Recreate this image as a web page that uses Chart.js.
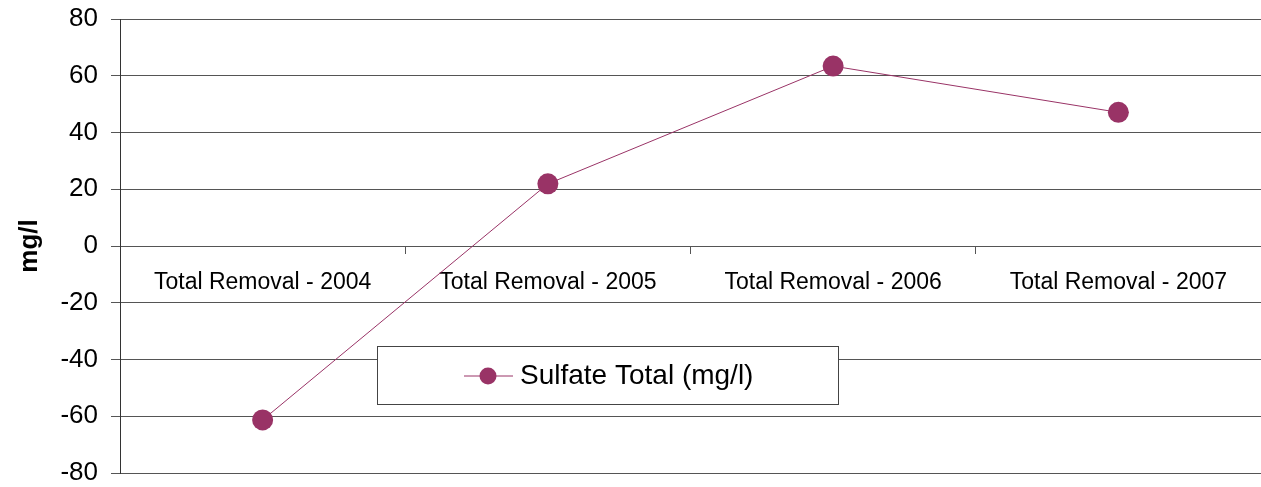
<!DOCTYPE html>
<html>
<head>
<meta charset="utf-8">
<script src="https://cdn.jsdelivr.net/npm/chart.js@4"></script>
<style>
  html, body { margin: 0; padding: 0; background: #fff; }
  #wrap { position: relative; width: 1261px; height: 487px; }
</style>
</head>
<body>
<div id="wrap"><canvas id="chart"></canvas></div>
<script>
const categories = ['Total Removal - 2004', 'Total Removal - 2005', 'Total Removal - 2006', 'Total Removal - 2007'];
const sulfateTotal = [-61.3, 21.9, 63.4, 47.1];
const seriesLabel = 'Sulfate Total (mg/l)';
const yTitle = 'mg/l';

const FONT = "'Liberation Sans', Arial, sans-serif";
const MAROON = '#993366';
const GRID = '#555555';

// legend box sits inside the plot, drawn after the data
const legendBox = {
  id: 'legendBox',
  afterDatasetsDraw(chart) {
    const ctx = chart.ctx;
    const x = 377, y = 346, w = 461, h = 58;
    ctx.save();
    ctx.fillStyle = '#fff';
    ctx.fillRect(x, y, w, h);
    ctx.strokeStyle = '#444';
    ctx.lineWidth = 1;
    ctx.strokeRect(x + 0.5, y + 0.5, w, h);
    const cy = y + h / 2 + 1;
    ctx.strokeStyle = MAROON;
    ctx.beginPath();
    ctx.moveTo(464, cy);
    ctx.lineTo(513, cy);
    ctx.stroke();
    ctx.fillStyle = MAROON;
    ctx.beginPath();
    ctx.arc(488, cy, 8.5, 0, Math.PI * 2);
    ctx.fill();
    ctx.fillStyle = '#000';
    ctx.font = '28px ' + FONT;
    ctx.textBaseline = 'middle';
    ctx.textAlign = 'left';
    ctx.fillText(seriesLabel, 520, cy);
    ctx.restore();
  }
};

// no label overflow padding, the layout padding decides the plot box
function noPad(scale) {
  scale.paddingLeft = 0;
  scale.paddingRight = 0;
  scale.paddingTop = 0;
  scale.paddingBottom = 0;
}

new Chart(document.getElementById('chart'), {
  type: 'line',
  data: {
    labels: categories,
    datasets: [{
      label: seriesLabel,
      data: sulfateTotal,
      borderColor: MAROON,
      backgroundColor: MAROON,
      borderWidth: 1,
      pointRadius: 10.5,
      pointHoverRadius: 10.5,
      pointBorderWidth: 0,
      tension: 0,
    }],
  },
  options: {
    responsive: true,
    maintainAspectRatio: false,
    animation: false,
    layout: { autoPadding: false, padding: { top: 19, bottom: 14, left: 0, right: 0 } },
    plugins: {
      legend: { display: false },
      tooltip: { enabled: false },
    },
    scales: {
      x: {
        position: { y: 0 },
        offset: true,
        afterFit: noPad,
        grid: { offset: true, drawOnChartArea: false, drawTicks: true, tickLength: 7, color: GRID },
        border: { display: true, color: GRID, width: 1 },
        ticks: {
          color: '#000', font: { family: FONT, size: 23 },
          maxRotation: 0, autoSkip: false, padding: 16,
        },
      },
      y: {
        min: -80, max: 80,
        afterFit: (scale) => { scale.width = 120; noPad(scale); },
        ticks: { stepSize: 20, color: '#000', font: { family: FONT, size: 26 }, padding: 13 },
        grid: { color: GRID, tickLength: 9 },
        border: { display: true, color: '#333', width: 1 },
        title: {
          display: true, text: yTitle, color: '#000',
          font: { family: FONT, size: 26, weight: 'bold' },
          padding: { top: 14, bottom: 0 },
        },
      },
    },
  },
  plugins: [legendBox],
});
</script>
</body>
</html>
